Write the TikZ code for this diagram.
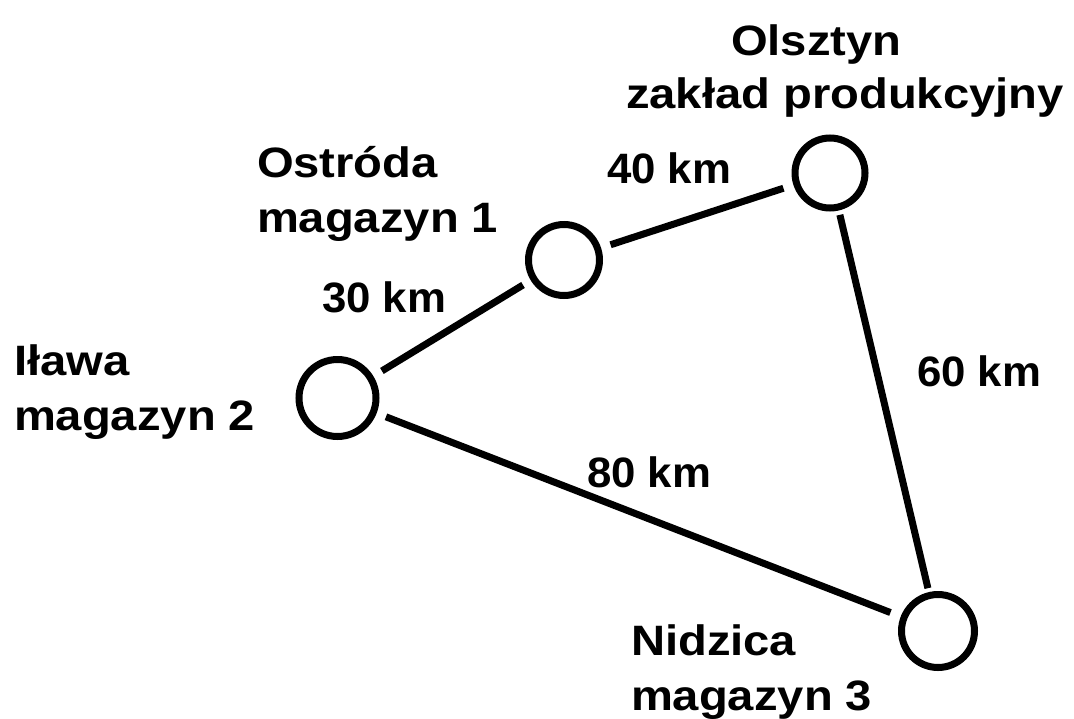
\documentclass[tikz,border=0pt]{standalone}
\usepackage{fontspec}
\setmainfont{Liberation Sans}
\newfontfamily\namefont[FakeStretch=1.11]{Liberation Sans}
\newfontfamily\distfont[FakeStretch=1.03]{Liberation Sans}
\begin{document}
\begin{tikzpicture}[x=1pt,y=-1pt,
  city/.style={circle,draw=black,line width=7pt,inner sep=0pt,outer sep=0pt,minimum size=#1},
  lbl/.style={inner sep=0pt,outer sep=0pt,anchor=base west,font=\namefont\fontsize{42.5}{53}\selectfont\bfseries},
  dist/.style={inner sep=0pt,outer sep=0pt,anchor=base west,font=\distfont\fontsize{42.5}{53}\selectfont\bfseries},
  road/.style={line width=7pt,black}]
\useasboundingbox (0,0) rectangle (1074,718);
% cities
\node[city=70pt] (ol) at (830,173) {};
\node[city=71pt] (os) at (564,260) {};
\node[city=77pt] (il) at (337.5,398) {};
\node[city=73pt] (ni) at (938,631) {};
% roads
\draw[road,shorten <=13.5pt,shorten >=12.5pt] (il) -- (os);
\draw[road,shorten <=13.5pt,shorten >=14pt] (os) -- (ol);
\draw[road,shorten <=8pt,shorten >=7.5pt] (ol) -- (ni);
\draw[road,shorten <=13.5pt,shorten >=14.5pt] (il) -- (ni);
% labels
\node[lbl] (olA) at (731,55) {Olsztyn};
\node[lbl] (olB) at (626,108) {zakład produkcyjny};
\node[lbl] (osA) at (257,177) {Ostróda};
\node[lbl] (osB) at (257,232) {magazyn 1};
\node[lbl] (ilA) at (14,375) {Iława};
\node[lbl] (ilB) at (14,430) {magazyn 2};
\node[lbl] (niA) at (631,655) {Nidzica};
\node[lbl] (niB) at (631,710) {magazyn 3};
\node[dist] (d30) at (322,312) {30 km};
\node[dist] (d40) at (607,183) {40 km};
\node[dist] (d60) at (917,386) {60 km};
\node[dist] (d80) at (587,487) {80 km};
\end{tikzpicture}
\end{document}
